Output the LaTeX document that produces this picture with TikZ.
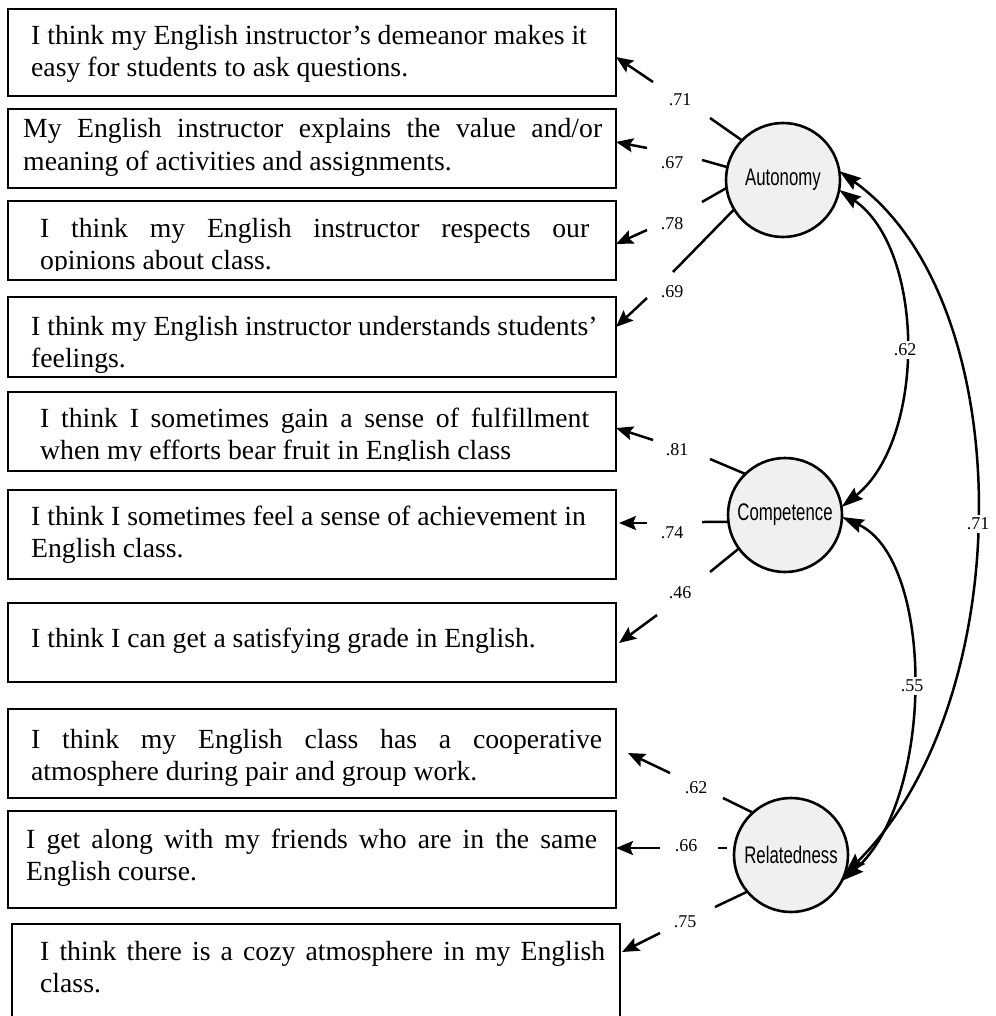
\documentclass[tikz,border=0pt]{standalone}
\usepackage{fontspec}
\setmainfont{Liberation Serif}
\newfontfamily\lsans{Liberation Sans}
\usetikzlibrary{arrows.meta,calc}
\begin{document}
\begin{tikzpicture}[x=1pt,y=-1pt,
  itembox/.style={draw, line width=1.8pt, anchor=north west, inner sep=0pt, outer sep=0pt, minimum width=608pt},
  txt/.style={inner sep=0pt, anchor=base west, font=\fontsize{27.7}{32}\selectfont},
  latent/.style={circle, draw, line width=2.6pt, fill=gray!12, minimum size=114pt, inner sep=0pt, outer sep=0pt, font=\lsans\fontsize{24}{24}\selectfont},
  lab/.style={inner sep=1.5pt, font=\fontsize{18}{18}\selectfont},
  ln/.style={line width=2.5pt},
  arr/.style={line width=2.5pt, -{Stealth[length=17pt,width=14pt,inset=3pt]}},
  cov/.style={line width=2.5pt, {Stealth[length=22pt,width=14pt,inset=3pt]}-{Stealth[length=22pt,width=14pt,inset=3pt]}}
]
\clip (0,0) rectangle (995,1016);
\fill[white] (0,0) rectangle (995,1016);

% item boxes
\node[itembox, minimum height=87pt] (b1) at (8,9) {};
\node[itembox, minimum height=79pt] (b2) at (8,109) {};
\node[itembox, minimum height=79pt] (b3) at (8,201) {};
\node[itembox, minimum height=80pt] (b4) at (8,297) {};
\node[itembox, minimum height=79pt] (b5) at (8,392) {};
\node[itembox, minimum height=89pt] (b6) at (8,490) {};
\node[itembox, minimum height=79pt] (b7) at (8,603) {};
\node[itembox, minimum height=89pt] (b8) at (8,709) {};
\node[itembox, minimum height=97pt] (b9) at (8,811) {};
\node[itembox, minimum height=110pt] (b10) at (12,924) {};

% item texts
\node[txt] (x1a) at (31,45) {I think my English instructor’s demeanor makes it};
\node[txt] (x1b) at (31,77) {easy for students to ask questions.};
\node[txt] (x2a) at (23,138) {\makebox[579pt][s]{My English instructor explains the value and/or}};
\node[txt] (x2b) at (23,171) {meaning of activities and assignments.};
\node[txt] (x3a) at (40,237) {\makebox[549pt][s]{I think my English instructor respects our}};
\begin{scope}
  \clip (0,240) rectangle (995,270);
  \node[txt] (x3b) at (40,269) {opinions about class.};
\end{scope}
\node[txt] (x4a) at (31,335) {I think my English instructor understands students’};
\node[txt] (x4b) at (31,367) {feelings.};
\node[txt] (x5a) at (40,427) {\makebox[549pt][s]{I think I sometimes gain a sense of fulfillment}};
\begin{scope}
  \clip (0,430) rectangle (995,460);
  \node[txt] (x5b) at (40,459) {when my efforts bear fruit in English class};
\end{scope}
\node[txt] (x6a) at (31,525) {I think I sometimes feel a sense of achievement in};
\node[txt] (x6b) at (31,557) {English class.};
\node[txt] (x7a) at (31,647) {I think I can get a satisfying grade in English.};
\node[txt] (x8a) at (31,748) {\makebox[571pt][s]{I think my English class has a cooperative}};
\node[txt] (x8b) at (31,780) {atmosphere during pair and group work.};
\node[txt] (x9a) at (26,848) {\makebox[571pt][s]{I get along with my friends who are in the same}};
\node[txt] (x9b) at (26,880) {English course.};
\node[txt] (x10a) at (40,960) {\makebox[565pt][s]{I think there is a cozy atmosphere in my English}};
\node[txt] (x10b) at (40,992) {class.};

% latent factors
\node[latent] (aut) at (783,180) {\scalebox{0.7}[1]{Autonomy}};
\node[latent] (com) at (785,515) {\scalebox{0.7}[1]{Competence}};
\node[latent] (rel) at (791,855) {\scalebox{0.7}[1]{Relatedness}};

% stub ends, arrow tails and heads
\coordinate (s1) at (710,118);  \coordinate (t1) at (653,82);  \coordinate (h1) at (b1.east |- 0,57);
\coordinate (s2) at (702,160);  \coordinate (t2) at (647,148); \coordinate (h2) at (b2.east |- 0,142);
\coordinate (s3) at (702,202);  \coordinate (t3) at (647,230); \coordinate (h3) at (b3.east |- 0,244);
\coordinate (s4) at (673,272);  \coordinate (t4) at (647,298); \coordinate (h4) at (b4.east |- 0,327);
\coordinate (s5) at (710,459);  \coordinate (t5) at (653,440); \coordinate (h5) at (b5.east |- 0,428);
\coordinate (s6) at (702,522);  \coordinate (t6) at (647,523); \coordinate (h6) at ($(b6.east |- 0,523)+(3,0)$);
\coordinate (s7) at (710,572);  \coordinate (t7) at (657,615); \coordinate (h7) at ($(b7.east |- 0,643)+(3,0)$);
\coordinate (s8) at (723,798);  \coordinate (t8) at (670,773); \coordinate (h8) at ($(b8.east |- 0,753)+(12,0)$);
\coordinate (s9a) at (718,848); \coordinate (s9) at (727,848); \coordinate (t9) at (660,848); \coordinate (h9) at (b9.east |- 0,848);
\coordinate (s10) at (715,907); \coordinate (t10) at (660,933); \coordinate (h10) at ($(b10.east |- 0,952)+(2,0)$);

% stubs from factors
\draw[ln] (aut.136) -- (s1);
\draw[ln] (aut.167) -- (s2);
\draw[ln] (aut.188) -- (s3);
\draw[ln] (aut.211) -- (s4);
\draw[ln] (com.134) -- (s5);
\draw[ln] (com.187) -- (s6);
\draw[ln] (com.216) -- (s7);
\draw[ln] (rel.132) -- (s8);
\draw[ln] (s9a) -- (s9);
\draw[ln] (rel.220) -- (s10);

% arrows to items
\draw[arr] (t1) -- (h1);
\draw[arr] (t2) -- (h2);
\draw[arr] (t3) -- (h3);
\draw[arr] (t4) -- (h4);
\draw[arr] (t5) -- (h5);
\draw[arr] (t6) -- (h6);
\draw[arr] (t7) -- (h7);
\draw[arr] (t8) -- (h8);
\draw[arr] (t9) -- (h9);
\draw[arr] (t10) -- (h10);

% loading labels
\node[lab] (l1) at (680,100) {.71};
\node[lab] (l2) at (672,163) {.67};
\node[lab] (l3) at (672,224) {.78};
\node[lab] (l4) at (672,292) {.69};
\node[lab] (l5) at (677,450) {.81};
\node[lab] (l6) at (672,533) {.74};
\node[lab] (l7) at (680,593) {.46};
\node[lab] (l8) at (696,788) {.62};
\node[lab] (l9) at (686,846) {.66};
\node[lab] (l10) at (685,922) {.75};

% covariances
\draw[cov] (aut.-10) .. controls (926,250) and (926,440) .. (com.8);
\draw[cov] (aut.9) .. controls (1020,300) and (1020,700) .. (rel.-20);
\draw[cov] (com.-2) .. controls (935,560) and (935,800) .. (rel.-27);
\node[lab, fill=white, inner sep=3pt] (c1) at (905,350) {.62};
\node[lab, fill=white, inner sep=3pt] (c2) at (978,524) {.71};
\node[lab, fill=white, inner sep=3pt] (c3) at (912,686) {.55};
\end{tikzpicture}
\end{document}
